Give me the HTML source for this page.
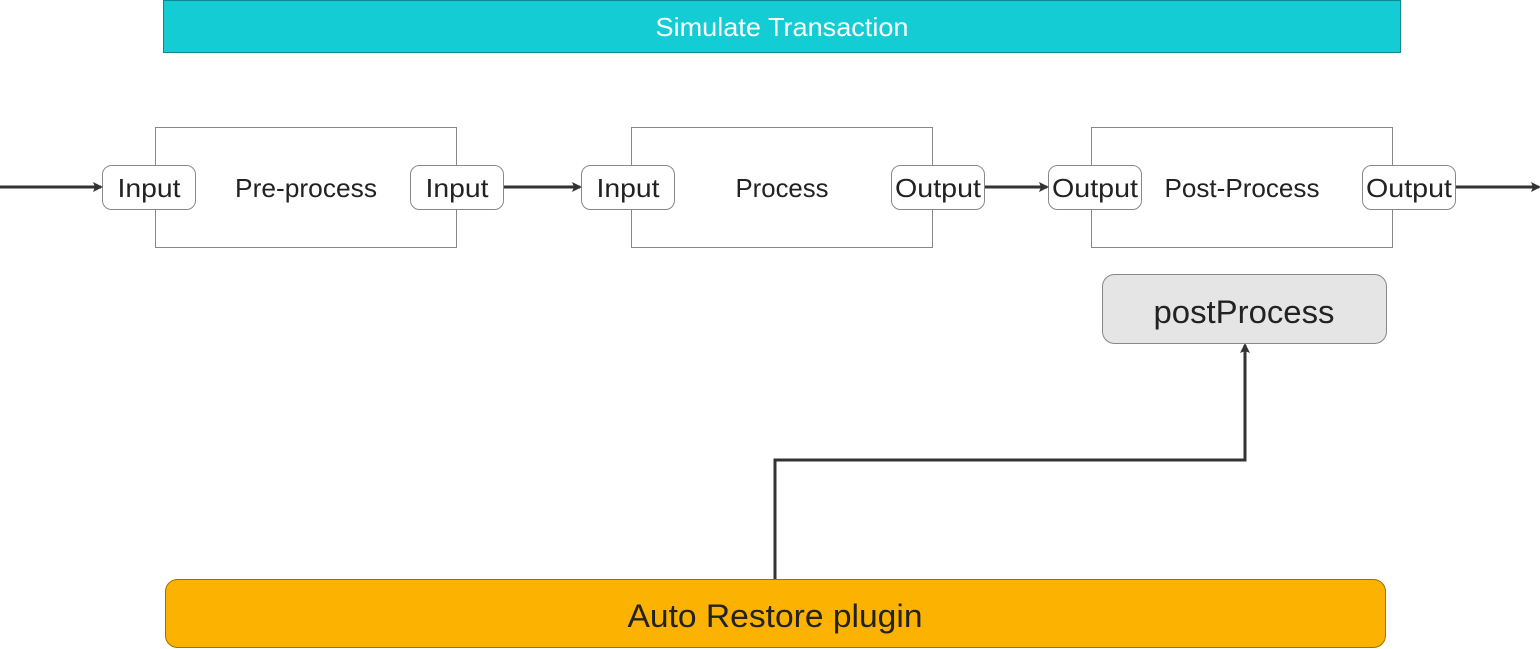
<!DOCTYPE html>
<html><head><meta charset="utf-8"><style>
html,body{margin:0;padding:0;background:#fff;width:1540px;height:649px;overflow:hidden}
svg text{font-family:"Liberation Sans","DejaVu Sans",sans-serif;fill:#222}
</style></head><body>
<svg width="1540" height="649" viewBox="0 0 1540 649" xmlns="http://www.w3.org/2000/svg">
<defs><marker id="a" markerWidth="10" markerHeight="10" refX="8" refY="5" orient="auto" markerUnits="userSpaceOnUse"><path d="M0,0 L10,5 L0,10 L2,5 Z" fill="#333"/></marker></defs>
<rect x="163.5" y="0.5" width="1237" height="52" fill="#14ccd4" stroke="#0a8a90"/>
<text x="782" y="36" font-size="26" text-anchor="middle" textLength="253" lengthAdjust="spacingAndGlyphs" style="fill:#fff">Simulate Transaction</text>
<g fill="#fff" stroke="#888" stroke-width="1">
<rect x="155.5" y="127.5" width="301" height="120"/>
<rect x="631.5" y="127.5" width="301" height="120"/>
<rect x="1091.5" y="127.5" width="301" height="120"/>
<rect x="102.5" y="165.5" width="93" height="44" rx="9"/>
<rect x="410.5" y="165.5" width="93" height="44" rx="9"/>
<rect x="581.5" y="165.5" width="93" height="44" rx="9"/>
<rect x="891.5" y="165.5" width="93" height="44" rx="9"/>
<rect x="1048.5" y="165.5" width="93" height="44" rx="9"/>
<rect x="1362.5" y="165.5" width="93" height="44" rx="9"/>
</g>
<g font-size="26" text-anchor="middle" lengthAdjust="spacingAndGlyphs">
<text x="149" y="197" textLength="63" lengthAdjust="spacingAndGlyphs">Input</text>
<text x="306" y="197" textLength="142" lengthAdjust="spacingAndGlyphs">Pre-process</text>
<text x="457" y="197" textLength="63" lengthAdjust="spacingAndGlyphs">Input</text>
<text x="628" y="197" textLength="63" lengthAdjust="spacingAndGlyphs">Input</text>
<text x="782" y="197" textLength="93" lengthAdjust="spacingAndGlyphs">Process</text>
<text x="938" y="197" textLength="86" lengthAdjust="spacingAndGlyphs">Output</text>
<text x="1095" y="197" textLength="86" lengthAdjust="spacingAndGlyphs">Output</text>
<text x="1242" y="197" textLength="155" lengthAdjust="spacingAndGlyphs">Post-Process</text>
<text x="1409" y="197" textLength="86" lengthAdjust="spacingAndGlyphs">Output</text>
</g>
<g stroke="#333" stroke-width="3" fill="none" marker-end="url(#a)">
<line x1="0" y1="187" x2="101" y2="187"/>
<line x1="504" y1="187" x2="580" y2="187"/>
<line x1="985" y1="187" x2="1047" y2="187"/>
<line x1="1456" y1="187" x2="1539" y2="187"/>
<polyline points="775,579 775,460 1245,460 1245,345"/>
</g>
<rect x="1102.5" y="274.5" width="284" height="69" rx="12" fill="#e5e5e5" stroke="#888"/>
<text x="1244" y="323" font-size="32" text-anchor="middle" textLength="181" lengthAdjust="spacingAndGlyphs">postProcess</text>
<rect x="165.5" y="579.5" width="1220" height="68" rx="12" fill="#fbb200" stroke="#a07000"/>
<text x="775" y="627" font-size="32" text-anchor="middle" textLength="295" lengthAdjust="spacingAndGlyphs">Auto Restore plugin</text>
</svg>
</body></html>
